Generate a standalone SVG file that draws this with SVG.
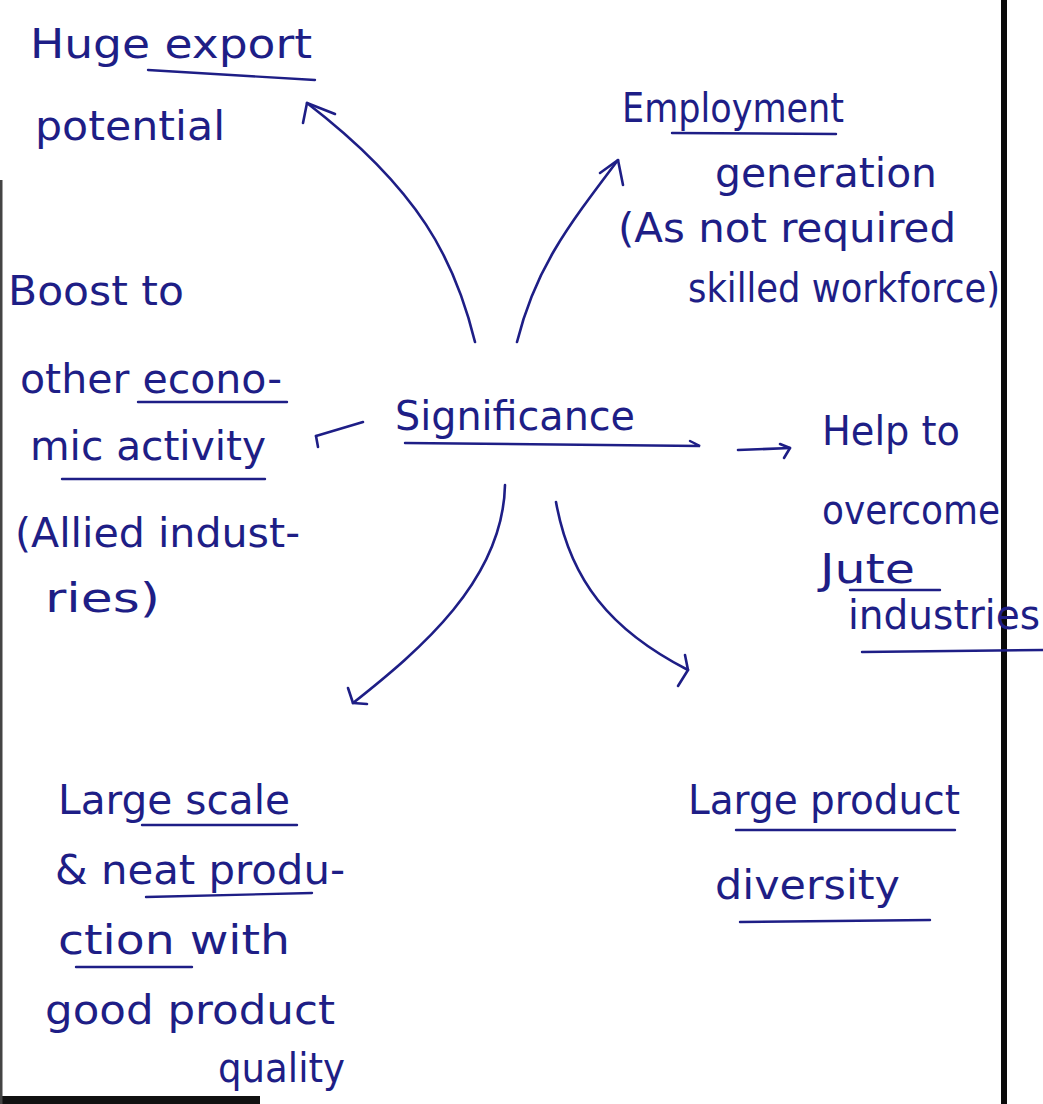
<svg xmlns="http://www.w3.org/2000/svg" width="1043" height="1104" viewBox="0 0 1043 1104">
<style>
.t{font-family:"DejaVu Sans","Liberation Sans",sans-serif;font-size:40px;fill:#1e1e86;}
.c{fill:none;stroke:#1e1e86;stroke-width:2.6;stroke-linecap:round;stroke-linejoin:round;}
.u{fill:none;stroke:#1e1e86;stroke-width:2.4;stroke-linecap:round;}
</style>
<rect width="1043" height="1104" fill="#ffffff"/>
<g id="page-border">
<rect x="1001" y="0" width="6" height="1104" fill="#0a0a0a"/>
<rect x="0" y="1096" width="260" height="8" fill="#111111"/>
<rect x="0" y="180" width="2.5" height="924" fill="#444444"/>
</g>
<g id="connectors">
<path class="c" d="M475,342 C455,260 420,190 307,103"/>
<path class="c" d="M303,123 L307,103 L335,114"/>
<path class="c" d="M517,342 C535,270 565,230 618,160"/>
<path class="c" d="M600,173 L618,160 L623,185"/>
<path class="c" d="M363,422 L316,436"/>
<path class="c" d="M316,436 L318,447"/>
<path class="c" d="M738,450 L790,448"/>
<path class="c" d="M780,444 L790,448 L784,458"/>
<path class="c" d="M505,485 C503,580 420,650 353,703"/>
<path class="c" d="M348,688 L353,703 L367,704"/>
<path class="c" d="M556,502 C570,580 610,630 688,670"/>
<path class="c" d="M685,655 L688,670 L678,686"/>
</g>
<g id="center">
<text class="t" x="395" y="430" textLength="240" lengthAdjust="spacingAndGlyphs">Significance</text>
<path class="u" d="M405,443 L700,446 L690,441"/>
</g>
<g id="node-export">
<text class="t" x="30" y="58" textLength="282" lengthAdjust="spacingAndGlyphs">Huge export</text>
<text class="t" x="35" y="140" textLength="190" lengthAdjust="spacingAndGlyphs">potential</text>
<path class="u" d="M148,70 L315,80"/>
</g>
<g id="node-employment">
<text class="t" x="622" y="122" textLength="222" lengthAdjust="spacingAndGlyphs">Employment</text>
<path class="u" d="M672,133 L836,134"/>
<text class="t" x="715" y="187" textLength="222" lengthAdjust="spacingAndGlyphs">generation</text>
<text class="t" x="618" y="242" textLength="338" lengthAdjust="spacingAndGlyphs">(As not required</text>
<text class="t" x="688" y="302" textLength="312" lengthAdjust="spacingAndGlyphs">skilled workforce)</text>
</g>
<g id="node-boost">
<text class="t" x="8" y="305" textLength="176" lengthAdjust="spacingAndGlyphs">Boost to</text>
<text class="t" x="20" y="393" textLength="262" lengthAdjust="spacingAndGlyphs">other econo-</text>
<path class="u" d="M138,402 L287,402"/>
<text class="t" x="30" y="460" textLength="236" lengthAdjust="spacingAndGlyphs">mic activity</text>
<path class="u" d="M62,479 L265,479"/>
<text class="t" x="15" y="547" textLength="285" lengthAdjust="spacingAndGlyphs">(Allied indust-</text>
<text class="t" x="45" y="612" textLength="115" lengthAdjust="spacingAndGlyphs">ries)</text>
</g>
<g id="node-jute">
<text class="t" x="822" y="445" textLength="138" lengthAdjust="spacingAndGlyphs">Help to</text>
<text class="t" x="822" y="524" textLength="178" lengthAdjust="spacingAndGlyphs">overcome</text>
<text class="t" x="820" y="583" textLength="95" lengthAdjust="spacingAndGlyphs">Jute</text>
<path class="u" d="M850,590 L940,590"/>
<text class="t" x="848" y="629" textLength="192" lengthAdjust="spacingAndGlyphs">industries</text>
<path class="u" d="M862,652 L1043,650"/>
</g>
<g id="node-largescale">
<text class="t" x="58" y="814" textLength="232" lengthAdjust="spacingAndGlyphs">Large scale</text>
<path class="u" d="M142,825 L297,825"/>
<text class="t" x="55" y="884" textLength="290" lengthAdjust="spacingAndGlyphs">&amp; neat produ-</text>
<path class="u" d="M146,897 L312,893"/>
<text class="t" x="58" y="954" textLength="232" lengthAdjust="spacingAndGlyphs">ction with</text>
<path class="u" d="M76,967 L192,967"/>
<text class="t" x="45" y="1024" textLength="290" lengthAdjust="spacingAndGlyphs">good product</text>
<text class="t" x="218" y="1082" textLength="127" lengthAdjust="spacingAndGlyphs">quality</text>
</g>
<g id="node-diversity">
<text class="t" x="688" y="814" textLength="272" lengthAdjust="spacingAndGlyphs">Large product</text>
<path class="u" d="M736,830 L955,830"/>
<text class="t" x="715" y="899" textLength="185" lengthAdjust="spacingAndGlyphs">diversity</text>
<path class="u" d="M740,922 L930,920"/>
</g>
</svg>
